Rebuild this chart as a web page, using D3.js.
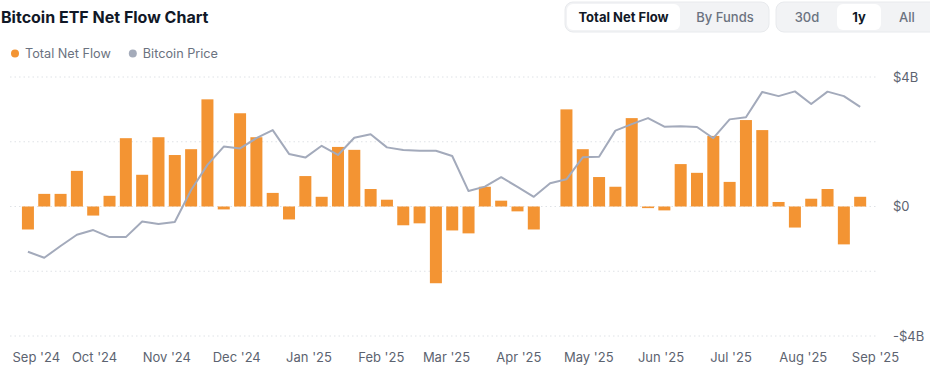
<!DOCTYPE html>
<html>
<head>
<meta charset="utf-8">
<script src="https://cdn.jsdelivr.net/npm/d3@7"></script>
<style>
  html, body { margin: 0; padding: 0; background: #fff; }
  svg { display: block; font-family: Inter, "Noto Sans", sans-serif; }
</style>
</head>
<body>
<svg id="chart" width="930" height="366"></svg>
<script>
// ---- data ----
const weekStarts = d3.range(52).map(i => d3.timeDay.offset(new Date(2024, 8, 2), i * 7));
const netFlowB = [
  -0.71, 0.39, 0.39, 1.10, -0.28, 0.33, 2.11, 0.98, 2.14, 1.59,
  1.77, 3.31, -0.09, 2.88, 2.14, 0.42, -0.40, 0.94, 0.30, 1.84,
  1.75, 0.54, 0.21, -0.58, -0.52, -2.37, -0.74, -0.83, 0.61, 0.18,
  -0.15, -0.71, 0.00, 3.00, 1.77, 0.91, 0.61, 2.73, -0.05, -0.12,
  1.31, 1.04, 2.18, 0.76, 2.67, 2.36, 0.14, -0.65, 0.24, 0.54,
  -1.17, 0.30
];
const btcPriceK = [
  57.2, 54.9, 59.4, 63.7, 65.5, 62.8, 62.8, 68.8, 67.8, 68.6,
  80.8, 90.4, 97.4, 96.7, 100.6, 103.7, 94.6, 93.2, 97.7, 94.2,
  100.8, 102.1, 97.1, 96.1, 95.8, 95.8, 93.8, 80.4, 82.1, 85.7,
  82.0, 78.2, 83.4, 84.9, 93.3, 93.5, 103.5, 106.0, 108.3, 105.0,
  105.2, 104.9, 100.6, 107.8, 108.6, 118.3, 116.7, 118.5, 113.7, 118.4,
  116.7, 112.6
];
const flowTicks = [4, 0, -4];
const gridTicks = [4, 2, 0, -2, -4];
const monthTicks = d3.range(13).map(i => new Date(2024, 8 + i, 1));
const legendItems = [
  { label: "Total Net Flow", color: "#f39433" },
  { label: "Bitcoin Price", color: "#a4abba" }
];
const viewButtons = ["Total Net Flow", "By Funds"];
const rangeButtons = ["30d", "1y", "All"];

// ---- setup ----
const svg = d3.select("#chart");
const ORANGE = "#f39433", LINE = "#a3aabb", TEXT = "#5c6370";

const x = d3.scaleTime()
  .domain([new Date(2024, 8, 1), new Date(2025, 8, 1)])
  .range([24.6, 875.5]);
const y = d3.scaleLinear().domain([-4, 4]).range([336, 77]);
const yPrice = d3.scaleLinear().domain([25, 124]).range([336, 77]);

// title
svg.append("text").attr("x", 1).attr("y", 23)
  .attr("font-size", 16).attr("font-weight", 700).attr("fill", "#111827")
  .text("Bitcoin ETF Net Flow Chart");

// legend
const leg = svg.append("g");
let lx = 15;
legendItems.forEach((d, i) => {
  leg.append("circle").attr("cx", lx).attr("cy", 53.5).attr("r", 4).attr("fill", d.color);
  const t = leg.append("text").attr("x", lx + 10).attr("y", 58)
    .attr("font-size", 12.7).attr("fill", "#6b7280").text(d.label);
  lx = lx + 10 + t.node().getComputedTextLength() + 22;
});

// buttons
function buttonGroup(gx, gw, items, centers, activeIdx, activeRect) {
  const g = svg.append("g");
  g.append("rect").attr("x", gx).attr("y", 2).attr("width", gw).attr("height", 30)
    .attr("rx", 8).attr("fill", "#f2f3f5").attr("stroke", "#e8eaed");
  g.append("rect").attr("x", activeRect[0]).attr("y", 4).attr("width", activeRect[1]).attr("height", 26)
    .attr("rx", 6).attr("fill", "#ffffff");
  items.forEach((d, i) => {
    g.append("text").attr("x", centers[i]).attr("y", 21.5).attr("text-anchor", "middle")
      .attr("font-size", 13).attr("font-weight", i === activeIdx ? 700 : 500)
      .attr("fill", i === activeIdx ? "#111827" : "#6b7280").text(d);
  });
}
buttonGroup(565, 204, viewButtons, [623.5, 725], 0, [567, 113]);
buttonGroup(776, 170, rangeButtons, [807, 859, 907], 1, [837, 44]);

// grid
svg.append("g").selectAll("line").data(gridTicks).join("line")
  .attr("x1", 10).attr("x2", 877)
  .attr("y1", d => y(d)).attr("y2", d => y(d))
  .attr("stroke", "#dfe2e6").attr("stroke-width", 1).attr("stroke-dasharray", "1.5,3");

// right axis labels
const fmt = v => v === 0 ? "$0" : (v < 0 ? "-$" : "$") + Math.abs(v) + "B";
svg.append("g").selectAll("text").data(flowTicks).join("text")
  .attr("x", 893).attr("y", d => y(d) + 4.5)
  .attr("font-size", 13).attr("fill", TEXT).text(fmt);

// bars
const barW = 12;
svg.append("g").selectAll("rect").data(netFlowB).join("rect")
  .attr("x", (d, i) => x(weekStarts[i]) + 1 - barW / 2)
  .attr("width", barW)
  .attr("y", d => y(Math.max(0, d)))
  .attr("height", d => Math.abs(y(d) - y(0)))
  .attr("fill", ORANGE);

// price line
const line = d3.line()
  .x((d, i) => x(weekStarts[i]) + 1)
  .y(d => yPrice(d));
svg.append("path").datum(btcPriceK)
  .attr("d", line).attr("fill", "none")
  .attr("stroke", LINE).attr("stroke-width", 2).attr("stroke-linejoin", "round");

// x axis labels
const mfmt = d3.timeFormat("%b '%y");
const xl = svg.append("g");
monthTicks.forEach(m => {
  const t = xl.append("text").attr("y", 362).attr("font-size", 13).attr("fill", TEXT).text(mfmt(m));
  const w = t.node().getComputedTextLength();
  let left = x(m) - w / 2;
  if (left < 12.5) left = 12.5;
  t.attr("x", left);
});
</script>
</body>
</html>
